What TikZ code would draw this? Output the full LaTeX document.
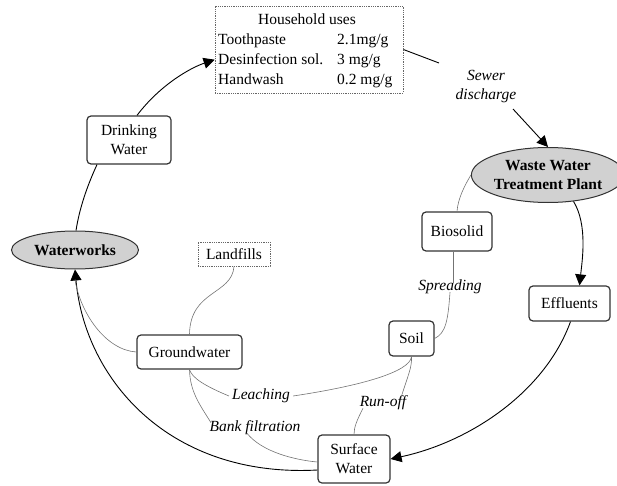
\documentclass[tikz,border=0pt]{standalone}
\usepackage{fontspec}
\setmainfont{Liberation Serif}
\usetikzlibrary{shapes.geometric,arrows.meta}
\begin{document}
\begin{tikzpicture}[x=1pt,y=-1pt,
  every node/.style={font=\fontsize{15.5}{19}\selectfont, inner sep=0pt},
  box/.style={draw=black!80, line width=1.2pt, rounded corners=4pt, align=center},
  ell/.style={ellipse, draw=black!80, line width=1pt, fill=black!18, align=center, font=\fontsize{15.5}{19}\selectfont\bfseries},
  dotbox/.style={draw=black!60, densely dotted, line width=0.8pt},
  lbl/.style={font=\fontsize{15.5}{19}\selectfont\itshape},
  main/.style={draw=black, line width=0.9pt},
  arr/.style={-{Triangle[length=11pt,width=11pt]}},
  thinc/.style={draw=black!55, line width=0.6pt}
]
\useasboundingbox (0,0) rectangle (617,486);

% household box
\node[dotbox, minimum width=188pt, minimum height=87pt] (hh) at (309,49.5) {};
\node (hht) at (307,19) {Household uses};
\node[anchor=base west] (r1a) at (218,45) {Toothpaste};
\node[anchor=base west] (r1b) at (337,45) {2.1mg/g};
\node[anchor=base west] (r2a) at (218,65) {Desinfection sol.};
\node[anchor=base west] (r2b) at (337,65) {3 mg/g};
\node[anchor=base west] (r3a) at (218,85) {Handwash};
\node[anchor=base west] (r3b) at (337,85) {0.2 mg/g};

% nodes
\node[box, minimum width=84pt, minimum height=48pt] (dw) at (129,140) {Drinking\\Water};
\node[ell, minimum width=127pt, minimum height=38pt] (ww) at (75,250) {Waterworks};
\node[dotbox, minimum width=72pt, minimum height=24pt] (lf) at (234,254) {Landfills};
\node[box, minimum width=105pt, minimum height=34pt] (gw) at (189.5,352) {Groundwater};
\node[box, minimum width=72pt, minimum height=48pt] (sfw) at (354,459) {Surface\\Water};
\node[box, minimum width=45pt, minimum height=35pt] (soil) at (411.5,338.5) {Soil};
\node[box, minimum width=70pt, minimum height=39pt] (bio) at (457,231.5) {Biosolid};
\node[box, minimum width=81pt, minimum height=35pt] (eff) at (569.5,303.5) {Effluents};
\node[ell, minimum width=137pt, minimum height=55pt] (wwtp) at (548,175) {Waste Water\\Treatment Plant};

% labels
\node[lbl, align=center] (sew) at (486,87) {Sewer\\discharge};
\node[lbl] (spr) at (450,287) {Spreading};
\node[lbl] (lea) at (261,396) {Leaching};
\node[lbl] (run) at (383,403) {Run-off};
\node[lbl] (bank) at (255,428) {Bank filtration};
\coordinate (sw1) at (439,63);
\coordinate (sw2) at (513,109);

% main cycle
\draw[main, arr] ([xshift=8pt]dw.north) .. controls (160,85) and (190,68) .. (hh.west |- r2a);
\draw[main] (hh.east) -- (sw1);
\draw[main, arr] (sw2) -- (wwtp.north);
\draw[main, arr] (wwtp.-46) .. controls (588,225) and (582,262) .. ([xshift=10pt]eff.north);
\draw[main, arr] ([xshift=1pt]eff.south) .. controls (545,392) and (470,442) .. (sfw.east);
\draw[main] ([xshift=1pt]ww.north) .. controls (80,205) and (89,182) .. ([xshift=-32pt]dw.south);
\draw[main, arr] ([yshift=-11pt]sfw.west) .. controls (170,478) and (85,380) .. (ww.south);

% thin connectors
\draw[thinc] (gw.west) .. controls (105,350) and (80,312) .. ([yshift=-10pt]ww.south);
\draw[thinc] (lf.south) .. controls (232,295) and (190,290) .. (gw.north);
\draw[thinc] (wwtp.west) .. controls (465,185) and (458,198) .. (bio.north);
\draw[thinc] ([xshift=-4pt]bio.south) -- ([yshift=-3pt,xshift=3pt]spr.north);
\draw[thinc] ([yshift=2pt]spr.south) .. controls (448,320) and (446,333) .. (soil.east);
\draw[thinc] (soil.south) .. controls (410,372) and (360,386) .. ([xshift=3pt]lea.east);
\draw[thinc] ([xshift=-3pt]lea.west) .. controls (205,386) and (192,378) .. (gw.south);
\draw[thinc] (soil.south) .. controls (412,368) and (408,375) .. ([xshift=18pt,yshift=-2pt]run.north);
\draw[thinc] ([xshift=-20pt,yshift=2pt]run.south) .. controls (357,420) and (354,427) .. (sfw.north);
\draw[thinc] (gw.south) .. controls (190,392) and (200,405) .. ([xshift=-44pt,yshift=-2pt]bank.north);
\draw[thinc] ([xshift=-8pt,yshift=2pt]bank.south) .. controls (262,452) and (295,460) .. ([yshift=-3pt]sfw.west);
\end{tikzpicture}
\end{document}
